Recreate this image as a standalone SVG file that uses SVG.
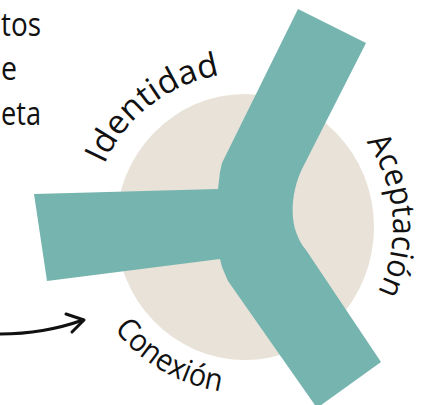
<svg xmlns="http://www.w3.org/2000/svg" width="445" height="405" viewBox="0 0 445 405">
<style>
.lbl{font-family:"Open Sans","DejaVu Sans",sans-serif;font-weight:400;fill:#111;}
.side{font-family:"Open Sans","DejaVu Sans",sans-serif;font-weight:400;fill:#111;font-size:32px;}
.arrow{fill:none;stroke:#111;stroke-width:3;stroke-linecap:round;stroke-linejoin:round;}
</style>
<defs>
<path id="arcI" d="M104.3,164.4 A154,154 0 0,1 223.6,74.5"/>
<path id="arcA" d="M366.2,142.1 A148,148 0 0,1 374.4,298.8"/>
<path id="arcC" d="M114.2,329.2 A166,166 0 0,0 224.8,391.8"/>
</defs>
<rect width="445" height="405" fill="#ffffff"/>
<g id="side-text">
<text class="side" x="1" y="36" textLength="40" lengthAdjust="spacingAndGlyphs">tos</text>
<text class="side" x="1" y="80" textLength="16" lengthAdjust="spacingAndGlyphs">e</text>
<text class="side" x="1" y="125" textLength="40" lengthAdjust="spacingAndGlyphs">eta</text>
</g>
<g id="circle">
<ellipse cx="245" cy="227" rx="129" ry="133" fill="#E8E2D8"/>
</g>
<g id="shape">
<path fill="#75B4AF" d="M298,9 L366,43 L302,169 C292,190 290,215 296,232 C299,240 302,245 306,250 L381,362 L317,408 L228,281 L222,267 L220,259 L47,281 L34,194 L218,189 L220,172 L222,163 Z"/>
</g>
<g id="identidad">
<text class="lbl" font-size="33"><textPath href="#arcI" textLength="152" lengthAdjust="spacingAndGlyphs">Identidad</textPath></text>
</g>
<g id="aceptacion">
<text class="lbl" font-size="32"><textPath href="#arcA" textLength="158" lengthAdjust="spacingAndGlyphs">Aceptación</textPath></text>
</g>
<g id="conexion">
<text class="lbl" font-size="31"><textPath href="#arcC" textLength="126" lengthAdjust="spacingAndGlyphs">Conexión</textPath></text>
</g>
<g id="connectors">
<path class="arrow" d="M0,334 C30,334 55,330 83,320"/>
<path class="arrow" d="M66,314 L84,320 L72,332"/>
</g>
</svg>
